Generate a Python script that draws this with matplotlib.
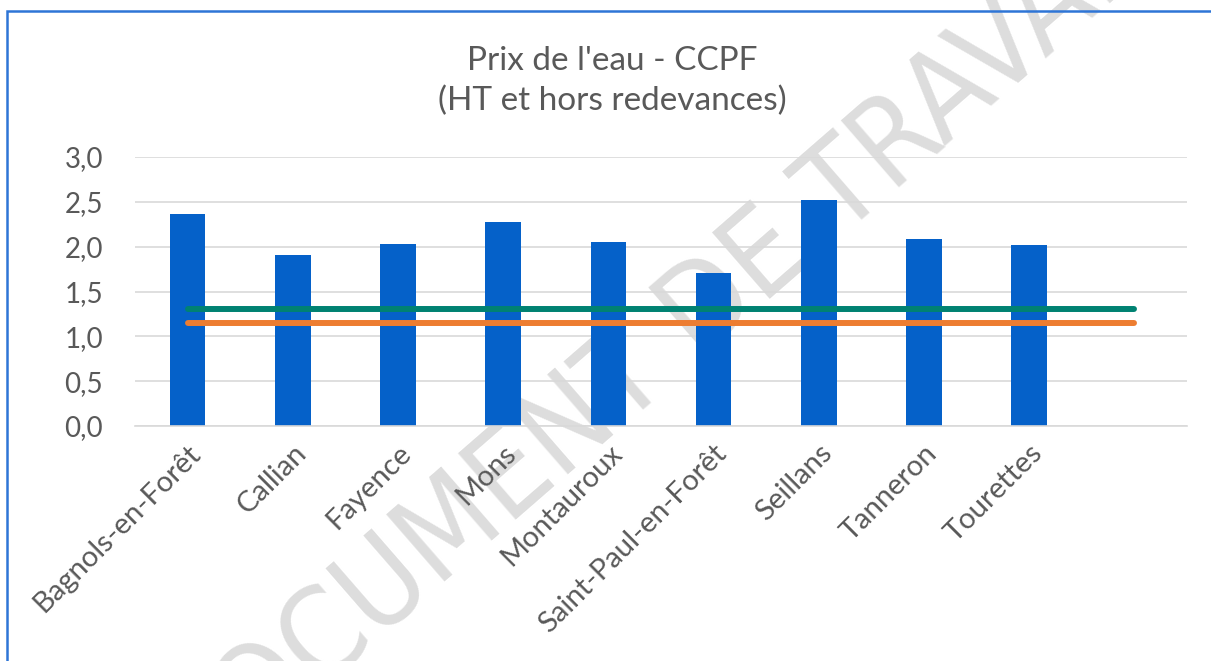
import os
import matplotlib.pyplot as plt
from matplotlib.patches import Rectangle
from matplotlib import font_manager
from matplotlib.font_manager import FontProperties

# donnees
communes = ['Bagnols-en-Forêt', 'Callian', 'Fayence', 'Mons', 'Montauroux',
            'Saint-Paul-en-Forêt', 'Seillans', 'Tanneron', 'Tourettes', '']
prix = [2.36, 1.91, 2.03, 2.27, 2.05, 1.71, 2.52, 2.08, 2.02, None]
ligne_verte = [1.30, 1.30, 1.30, 1.30, 1.30, 1.30, 1.30, 1.30, 1.30, 1.30]
ligne_orange = [1.15, 1.15, 1.15, 1.15, 1.15, 1.15, 1.15, 1.15, 1.15, 1.15]
yticks = [0.0, 0.5, 1.0, 1.5, 2.0, 2.5, 3.0]

plt.rcParams['font.family'] = ['Lato', 'DejaVu Sans']
gris = '#595959'

# police etroite pour le filigrane si dispo
fichiers = {os.path.basename(f.fname): f.fname for f in font_manager.fontManager.ttflist}
police_wm = None
for nom in ['LiberationSansNarrow-Regular.ttf', 'DejaVuSansCondensed.ttf',
            'RobotoCondensed-Regular.ttf', 'OpenSans_Condensed-Regular.ttf']:
    if nom in fichiers:
        police_wm = fichiers[nom]
        break

fig = plt.figure(figsize=(12.11, 6.61), dpi=100)
ax = fig.add_axes([135 / 1211, 1 - 426 / 661, (1187 - 135) / 1211, (426 - 157) / 661])
ax.set_facecolor('none')

x = list(range(len(communes)))
hauteurs = [v if v is not None else 0 for v in prix]
ax.bar(x, hauteurs, width=0.34, color='#0561C9', zorder=2)
ax.plot(x, ligne_verte, color='#008272', lw=4.3, solid_capstyle='round', zorder=3)
ax.plot(x, ligne_orange, color='#ED7D31', lw=4.3, solid_capstyle='round', zorder=3)

ax.set_xlim(-0.5, len(communes) - 0.5)
ax.set_ylim(0, 3)
ax.set_yticks(yticks)
ax.set_yticklabels([f'{v:.1f}'.replace('.', ',') for v in yticks])
ax.yaxis.grid(True, color='#D9D9D9', lw=1.2, zorder=0)
ax.tick_params(axis='y', length=0, pad=23, labelsize=20, labelcolor=gris)

ax.set_xticks(x)
ax.set_xticklabels(communes, rotation=45, ha='right', rotation_mode='anchor')
ax.tick_params(axis='x', length=0, pad=10, labelsize=21, labelcolor=gris)

for s in ['top', 'right', 'left']:
    ax.spines[s].set_visible(False)
ax.spines['bottom'].set_color('#D9D9D9')
ax.spines['bottom'].set_linewidth(1.2)

fig.text(0.5054, 1 - 81 / 661, "Prix de l'eau - CCPF\n(HT et hors redevances)",
         ha='center', va='center', fontsize=24, color=gris, linespacing=1.42)

# filigrane : taille ajustee pour une longueur d'environ 1300 px
fp = FontProperties(fname=police_wm) if police_wm else FontProperties(family='DejaVu Sans')
fp.set_size(100)
wm = fig.text(660 / 1211, 1 - 350 / 661, 'DOCUMENT DE TRAVAIL', ha='center', va='center',
              fontproperties=fp, color='#DDDDDD', zorder=-1)
largeur = wm.get_window_extent(fig.canvas.get_renderer()).width
fp.set_size(100 * 1300 / largeur)
wm.set_fontproperties(fp)
wm.set_rotation(41)

# cadre
fig.add_artist(Rectangle((7 / 1211, -0.1), 1.2, 1.1 - 11 / 661,
                         transform=fig.transFigure, fill=False,
                         edgecolor='#2E75D6', lw=1.8))

plt.savefig('out.png')
